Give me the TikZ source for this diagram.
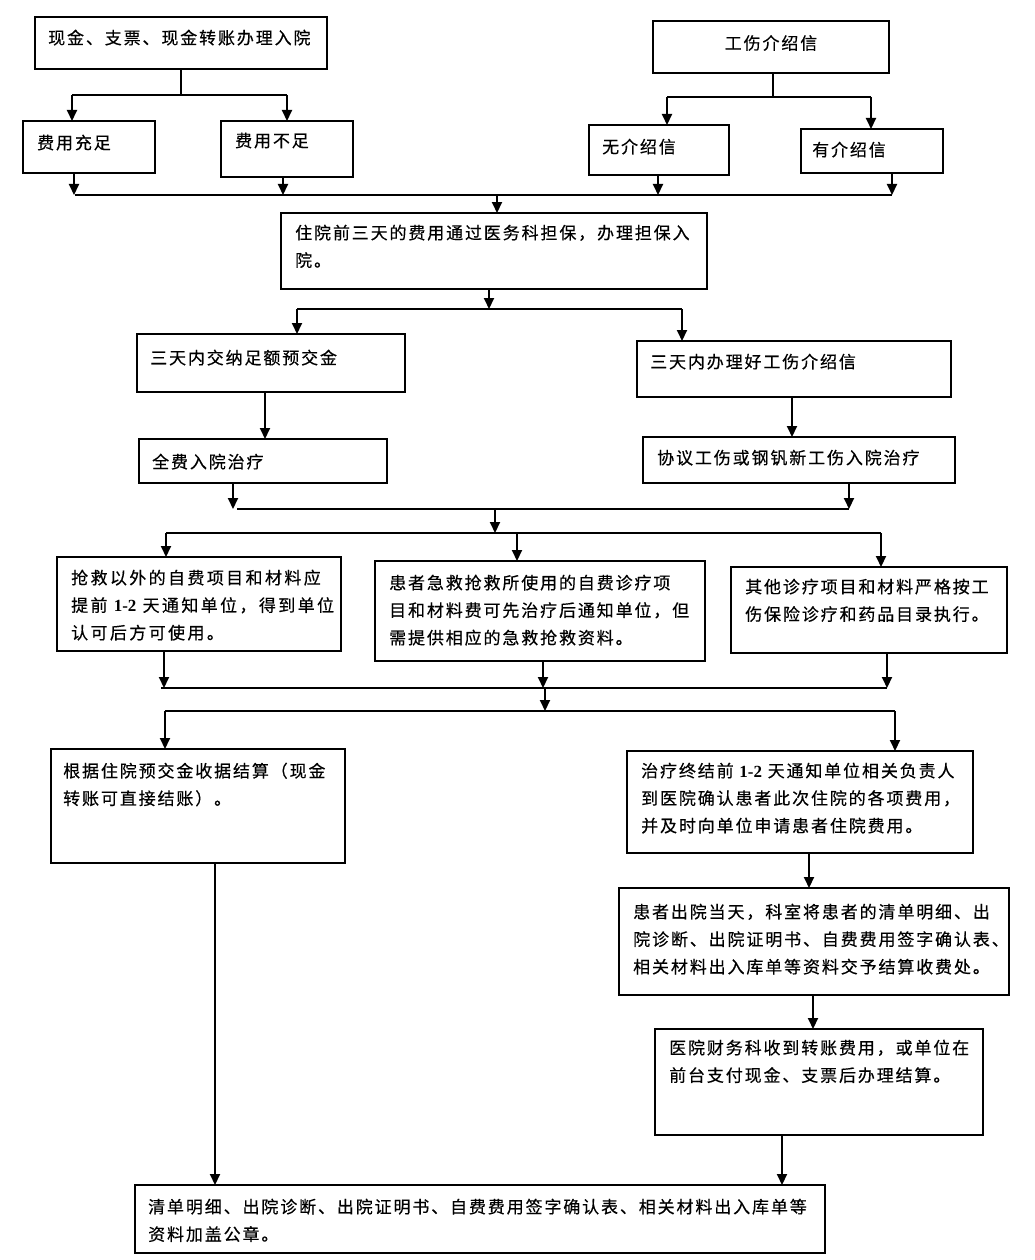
\documentclass[tikz,border=0pt]{standalone}
\usepackage{fontspec}
\setmainfont{Noto Sans CJK SC}[LetterSpace=11,FakeBold=0.4]
\newfontfamily\tnr{Liberation Serif}
\newfontfamily\wideA{Noto Sans CJK SC}[LetterSpace=14,FakeBold=0.4]
\usetikzlibrary{arrows.meta}
\newcommand\mybox[5]{\node[box,minimum width={(#4-#2)*1pt},minimum height={(#5-#3)*1pt}] (#1) at ({(#2+#4)/2},{(#3+#5)/2}) {};}
\newcommand\onetwo{{\tnr\bfseries 1-2}}
\begin{document}
\begin{tikzpicture}[x=1pt,y=-1pt,
  box/.style={draw,line width=2pt,inner sep=0pt,outer sep=0pt},
  txt/.style={anchor=north west,inner sep=0pt,align=left,font=\fontsize{17}{27.5}\selectfont},
  ln/.style={line width=2pt},
  arr/.style={line width=2pt,-{Triangle[length=11pt,width=10pt]}}]
\useasboundingbox (0,0) rectangle (1034,1260);
\fill[white] (0,0) rectangle (1034,1260);
% boxes
\mybox{A}{35}{17}{327}{69}
\mybox{B1}{23}{121}{155}{173}
\mybox{B2}{221}{121}{353}{177}
\mybox{D}{653}{21}{889}{73}
\mybox{E1}{589}{125}{729}{175}
\mybox{E2}{801}{129}{943}{173}
\mybox{C}{281}{213}{707}{289}
\mybox{F1}{137}{334}{405}{392}
\mybox{F2}{637}{341}{951}{397}
\mybox{G1}{139}{439}{387}{483}
\mybox{G2}{643}{437}{955}{483}
\mybox{H1}{57}{557}{341}{651}
\mybox{H2}{375}{561}{705}{661}
\mybox{H3}{731}{567}{1007}{653}
\mybox{I1}{51}{749}{345}{863}
\mybox{I2}{627}{751}{973}{853}
\mybox{J}{619}{888}{1009}{995}
\mybox{K}{655}{1029}{983}{1135}
\mybox{L}{135}{1185}{825}{1253}
% texts
\node[txt] (At) at (48,29.5) {现金、支票、现金转账办理入院};
\node[txt] (B1t) at (37,134.5) {费用充足};
\node[txt] (B2t) at (235,132.5) {费用不足};
\node[txt,anchor=center] (Dt) at (771,43) {工伤介绍信};
\node[txt] (E1t) at (602,138.5) {无介绍信};
\node[txt] (E2t) at (812,141.5) {有介绍信};
\node[txt] (Ct) at (295,224.5) {住院前三天的费用通过医务科担保，办理担保入\\院。};
\node[txt] (F1t) at (150,349.5) {三天内交纳足额预交金};
\node[txt] (F2t) at (650,353.5) {三天内办理好工伤介绍信};
\node[txt] (G1t) at (152,453.5) {全费入院治疗};
\node[txt] (G2t) at (657,449.5) {协议工伤或钢钒新工伤入院治疗};
\node[txt,font=\wideA\fontsize{17}{27.5}\selectfont] (H1t) at (71,569.5) {抢救以外的自费项目和材料应\\提前 \onetwo{} 天通知单位，得到单位\\认可后方可使用。};
\node[txt] (H2t) at (389,574.5) {患者急救抢救所使用的自费诊疗项\\目和材料费可先治疗后通知单位，但\\需提供相应的急救抢救资料。};
\node[txt] (H3t) at (745,578.5) {其他诊疗项目和材料严格按工\\伤保险诊疗和药品目录执行。};
\node[txt] (I1t) at (63,762.5) {根据住院预交金收据结算（现金\\转账可直接结账）。};
\node[txt] (I2t) at (641,762.5) {治疗终结前 \onetwo{} 天通知单位相关负责人\\到医院确认患者此次住院的各项费用，\\并及时向单位申请患者住院费用。};
\node[txt] (Jt) at (633,903.5) {患者出院当天，科室将患者的清单明细、出\\院诊断、出院证明书、自费费用签字确认表、\\相关材料出入库单等资料交予结算收费处。};
\node[txt] (Kt) at (669,1039.5) {医院财务科收到转账费用，或单位在\\前台支付现金、支票后办理结算。};
\node[txt] (Lt) at (148,1198.5) {清单明细、出院诊断、出院证明书、自费费用签字确认表、相关材料出入库单等\\资料加盖公章。};
% junction coordinates
\coordinate (a1) at (72,95);  \coordinate (a2) at (287,95); \coordinate (a0) at (181,95);
\coordinate (d1) at (667,97); \coordinate (d2) at (871,97); \coordinate (d0) at (773,97);
\coordinate (b0) at (75,195); \coordinate (b9) at (892,195);
\coordinate (c1) at (297,309); \coordinate (c2) at (682,309); \coordinate (c0) at (489,309);
\coordinate (g0) at (237,509); \coordinate (g9) at (849,509); \coordinate (gm) at (495,509);
\coordinate (h0) at (166,533); \coordinate (h9) at (881,533); \coordinate (hm) at (495,533);
\coordinate (k0) at (161,688); \coordinate (k9) at (887,688); \coordinate (km) at (545,688);
\coordinate (m0) at (165,711); \coordinate (m9) at (895,711); \coordinate (mm) at (545,711);
% connectors
\draw[ln] (A.south) -- (a0);
\draw[ln] (a1) -- (a2);
\draw[arr] (a1) -- (a1 |- B1.north);
\draw[arr] (a2) -- (a2 |- B2.north);
\draw[ln] (D.south -| d0) -- (d0);
\draw[ln] (d1) -- (d2);
\draw[arr] (d1) -- (d1 |- E1.north);
\draw[arr] (d2) -- (d2 |- E2.north);
\draw[ln] (b0) -- (b9);
\draw[arr] (B1.south -| 74,0) -- (74,195);
\draw[arr] (B2.south -| 283,0) -- (283,195);
\draw[arr] (E1.south -| 658,0) -- (658,195);
\draw[arr] (E2.south -| 892,0) -- (b9);
\draw[arr] (497,195) -- (C.north -| 497,0);
\draw[arr] (C.south -| c0) -- (c0);
\draw[ln] (c1) -- (c2);
\draw[arr] (c1) -- (c1 |- F1.north);
\draw[arr] (c2) -- (c2 |- F2.north);
\draw[arr] (F1.south -| 265,0) -- (G1.north -| 265,0);
\draw[arr] (F2.south -| 792,0) -- (G2.north -| 792,0);
\draw[arr] (G1.south -| 233,0) -- (233,509);
\draw[arr] (G2.south -| g9) -- (g9);
\draw[ln] (g0) -- (g9);
\draw[arr] (gm) -- (hm);
\draw[ln] (h0) -- (h9);
\draw[arr] (h0) -- (h0 |- H1.north);
\draw[arr] (517,533) -- (H2.north -| 517,0);
\draw[arr] (h9) -- (h9 |- H3.north);
\draw[arr] (H1.south -| 164,0) -- (164,688);
\draw[arr] (H2.south -| 543,0) -- (543,688);
\draw[arr] (H3.south -| k9) -- (k9);
\draw[ln] (k0) -- (k9);
\draw[arr] (km) -- (mm);
\draw[ln] (m0) -- (m9);
\draw[arr] (m0) -- (m0 |- I1.north);
\draw[arr] (m9) -- (m9 |- I2.north);
\draw[arr] (I1.south -| 215,0) -- (L.north -| 215,0);
\draw[arr] (I2.south -| 809,0) -- (J.north -| 809,0);
\draw[arr] (J.south -| 813,0) -- (K.north -| 813,0);
\draw[arr] (K.south -| 782,0) -- (L.north -| 782,0);
\end{tikzpicture}
\end{document}
